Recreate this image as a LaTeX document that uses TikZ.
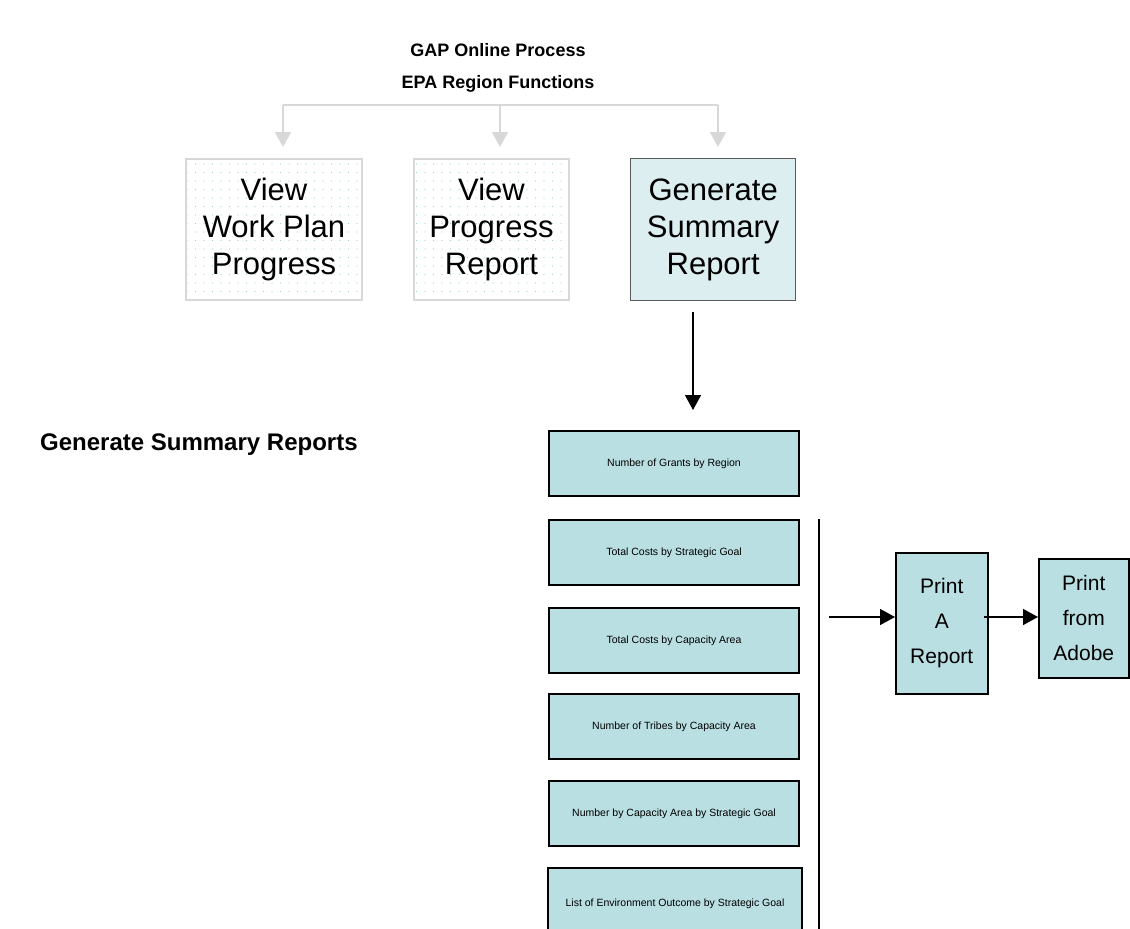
\documentclass[tikz,border=0pt]{standalone}
\usepackage{fontspec}
\setmainfont{Liberation Sans}
\usetikzlibrary{positioning,arrows.meta,patterns.meta}
\definecolor{gapTeal}{RGB}{185,223,226}
\definecolor{gapPale}{RGB}{220,238,240}
\definecolor{gapGrey}{RGB}{216,216,216}
\definecolor{gapDot}{RGB}{150,210,216}
\definecolor{gapEdge}{RGB}{90,90,90}

\begin{document}
\begin{tikzpicture}[x=1pt,y=-1pt,
    menubox/.style={draw=gapGrey, line width=2pt, anchor=north west, inner sep=0pt,
      pattern={Dots[distance=8.5pt,radius=0.7pt]}, pattern color=gapDot,
      align=center, font=\fontsize{31}{37}\selectfont},
    activebox/.style={draw=gapEdge, line width=1.3pt, fill=gapPale, anchor=north west,
      inner sep=0pt, align=center, font=\fontsize{31}{37}\selectfont},
    reportbox/.style={draw=black, line width=2pt, fill=gapTeal, anchor=north west,
      inner sep=0pt, minimum width=250pt, minimum height=65pt,
      font=\fontsize{10.5}{12}\selectfont},
    printbox/.style={draw=black, line width=1.5pt, fill=gapTeal, anchor=north west,
      inner sep=0pt, align=center, font=\fontsize{21}{35}\selectfont},
    greyarrow/.style={draw=gapGrey, line width=2pt, -{Triangle[length=15pt,width=16pt]}},
    blackarrow/.style={draw=black, line width=1.5pt, -{Triangle[length=15pt,width=16pt]}}]
  \useasboundingbox (0,0) rectangle (1130,929);
  \clip (0,0) rectangle (1130,929);

  \node[font=\fontsize{18}{22}\selectfont\bfseries] (title) at (498,50) {GAP Online Process};
  \node[font=\fontsize{18}{22}\selectfont\bfseries] (subtitle) at (498,84) {EPA Region Functions};

  \node[menubox, minimum width=176pt, minimum height=141pt] (workplan) at (185,158)
    {View\\Work Plan\\Progress};
  \node[menubox, minimum width=155pt, minimum height=141pt] (progress) at (413,158)
    {View\\Progress\\Report};
  \node[activebox, minimum width=165pt, minimum height=142pt] (summary) at (630,158)
    {Generate\\Summary\\Report};

  \coordinate (barleft) at (283,105);
  \coordinate (barmid) at (500,105);
  \coordinate (barright) at (718,105);
  \draw[gapGrey, line width=2pt] (barleft) -- (barright);
  \draw[greyarrow, shorten >=11pt] (barleft) -- (barleft |- workplan.north);
  \draw[greyarrow, shorten >=11pt] (barmid) -- (barmid |- progress.north);
  \draw[greyarrow, shorten >=11pt] (barright) -- (barright |- summary.north);

  \node[font=\fontsize{24}{28}\selectfont\bfseries, anchor=west, inner sep=0pt] (section)
    at (40,445) {Generate Summary Reports};

  \node[reportbox] (grants) at (548,430) {Number of Grants by Region};
  \node[reportbox] (costgoal) at (548,519) {Total Costs by Strategic Goal};
  \node[reportbox] (costarea) at (548,607) {Total Costs by Capacity Area};
  \node[reportbox] (tribes) at (548,693) {Number of Tribes by Capacity Area};
  \node[reportbox] (areagoal) at (548,780) {Number by Capacity Area by Strategic Goal};
  \node[reportbox, minimum width=254pt, minimum height=72pt] (outcome) at (547,867)
    {List of Environment Outcome by Strategic Goal};

  \coordinate (drop) at (693,300);
  \draw[blackarrow, shorten <=12pt, shorten >=20pt] (drop) -- (drop |- grants.north);

  \coordinate (railtop) at (819,519);
  \coordinate (railbot) at (819,935);
  \draw[black, line width=2pt] (railtop) -- (railbot);

  \node[printbox, minimum width=92pt, minimum height=141pt] (printrep) at (895,552)
    {Print\\A\\Report};
  \node[printbox, minimum width=90pt, minimum height=119pt] (adobe) at (1038,558)
    {Print\\from\\Adobe};

  \coordinate (feed) at (829,617);
  \draw[blackarrow] (feed) -- (feed -| printrep.west);
  \draw[blackarrow] ([xshift=-5pt]printrep.east |- feed) -- (feed -| adobe.west);
\end{tikzpicture}
\end{document}
